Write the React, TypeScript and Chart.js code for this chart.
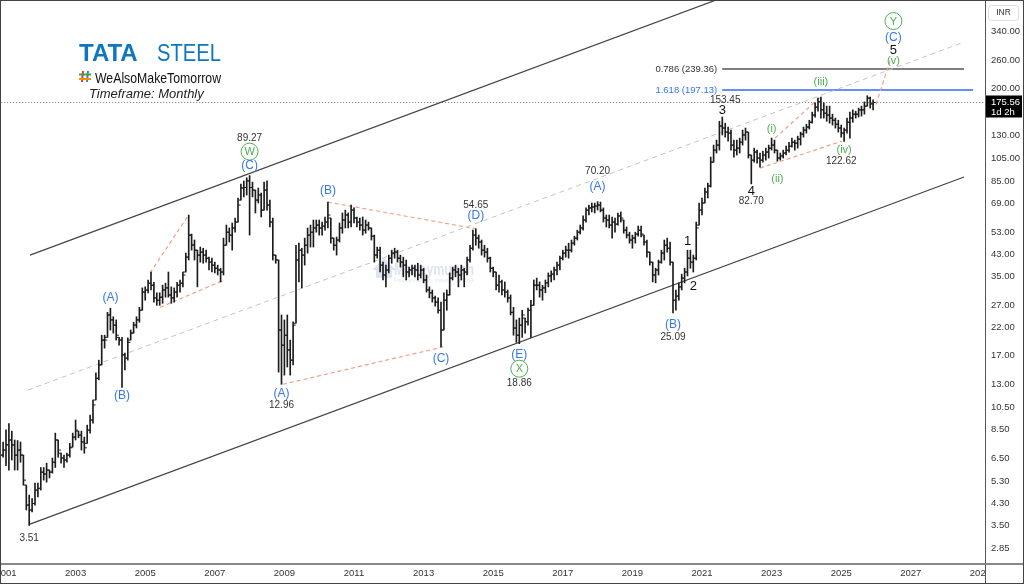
import React, { useEffect, useRef } from "react";
import { Chart, registerables } from "chart.js";

Chart.register(...registerables);

// ---------- DATA (monthly bars, first bar = Nov 2000) ----------
const FIRST_MONTH = -2; // months relative to Jan 2001

const highs = [
  // 2000 (Nov-Dec)
  7.05, 7.6,
  // 2001
  8.5, 9.0, 8.4, 7.74, 7.7, 7.6, 6.73, 5.1, 4.65, 4.5, 5.2, 5.2,
  // 2002
  6.0, 6.0, 6.25, 5.86, 6.55, 8.25, 7.74, 6.85, 6.73, 6.85, 7.5, 8.25,
  // 2003
  9.31, 8.4, 8.4, 7.95, 8.88, 9.75, 11.2, 14.4, 16.2, 20.4, 20.4, 25.2,
  // 2004
  26.2, 24.2, 23.5, 20.0, 20.0, 17.3, 19.9, 21.4, 23.0, 24.2, 26.4, 31.6,
  // 2005
  31.9, 34.0, 36.6, 33.3, 30.2, 30.2, 32.4, 33.0, 36.6, 31.9, 31.6, 33.3,
  // 2006
  34.0, 36.6, 43.6, 62.0, 52.0, 49.2, 44.8, 46.1, 45.6, 44.8, 42.0, 41.6,
  // 2007
  40.1, 39.0, 37.9, 50.1, 56.5, 55.0, 57.6, 60.3, 72.6, 82.6, 84.9, 87.5,
  // 2008
  89.27, 84.1, 78.1, 79.6, 76.0, 84.1, 85.0, 71.2, 60.3, 42.8, 40.9, 24.6,
  // 2009
  23.5, 24.6, 19.5, 23.1, 46.9, 47.8, 45.6, 50.1, 55.0, 56.5, 59.2, 59.2,
  // 2010
  59.2, 58.1, 60.9, 69.9, 60.3, 50.1, 50.6, 57.6, 63.2, 64.9, 63.2, 68.0,
  // 2011
  66.2, 60.9, 60.3, 60.9, 59.2, 58.1, 55.0, 51.5, 46.1, 46.1, 40.1, 39.0,
  // 2012
  42.8, 44.8, 45.6, 44.8, 42.8, 42.0, 40.9, 38.3, 39.0, 39.0, 39.7, 39.0,
  // 2013
  37.9, 35.6, 31.9, 31.0, 29.3, 28.8, 27.7, 30.2, 31.0, 36.3, 38.3, 39.0,
  // 2014
  37.9, 39.0, 37.9, 42.0, 46.9, 53.9, 54.65, 51.5, 49.2, 46.9, 45.6, 42.0,
  // 2015
  38.3, 36.6, 35.6, 34.0, 33.4, 31.0, 29.6, 26.4, 23.5, 23.9, 25.7, 23.9,
  // 2016
  26.2, 28.2, 34.0, 34.6, 33.4, 32.4, 34.0, 36.3, 37.0, 38.3, 40.1, 42.4,
  // 2017
  44.8, 46.5, 47.8, 49.2, 51.0, 53.9, 56.5, 61.5, 66.2, 68.0, 69.3, 69.3,
  // 2018
  70.2, 69.9, 66.2, 62.0, 62.0, 60.9, 60.3, 63.2, 63.8, 59.2, 55.5, 52.9,
  // 2019
  51.5, 52.9, 56.0, 56.0, 51.5, 49.2, 44.0, 40.1, 37.9, 40.9, 44.8, 49.2,
  // 2020
  50.1, 48.3, 40.1, 31.0, 33.1, 35.9, 37.9, 44.8, 44.8, 42.8, 58.1, 69.3,
  // 2021
  72.6, 79.6, 83.3, 106, 118.4, 124, 147.6, 153.45, 145, 139.9, 136, 124,
  // 2022
  124, 126.3, 136, 138.6, 133.5, 108, 115.1, 113, 110, 112, 115.1, 118.4,
  // 2023
  126.3, 124, 113, 110, 113, 117.2, 121.6, 126.3, 124, 128.6, 133.5, 139.9,
  // 2024
  143.6, 149, 160.6, 174.9, 182.9, 184.6, 174.9, 169.8, 169.8, 157.6, 152, 149,
  // 2025
  142.5, 138.6, 152, 160.6, 164, 162, 166.7, 169.8, 176.6, 186.9, 184.6, 180,
];

const lows = [
  6.43, 6.6,
  6.1, 5.86, 6.43, 5.86, 5.86, 6.3, 5.1, 4.05, 3.51, 3.98, 4.24, 4.57,
  4.87, 5.34, 5.24, 5.45, 5.7, 6.0, 6.6, 6.25, 6.0, 6.3, 6.6, 7.25,
  7.74, 7.9, 7.05, 6.85, 7.5, 8.25, 9.05, 11.2, 13.5, 15.5, 18.1, 20.0,
  21.4, 20.8, 19.5, 18.6, 12.6, 14.8, 16.2, 19.5, 20.8, 21.8, 23.0, 25.7,
  28.2, 30.2, 31.0, 27.7, 26.9, 26.9, 27.4, 29.0, 29.0, 27.4, 27.7, 29.0,
  30.4, 31.9, 36.6, 40.9, 44.8, 40.9, 31.9, 40.1, 39.7, 40.1, 37.3, 36.6,
  36.3, 35.6, 33.4, 35.6, 46.9, 48.3, 44.8, 52.9, 58.1, 71.2, 73.3, 74.6,
  51.5, 73.3, 63.2, 69.3, 60.9, 64.9, 64.9, 55.5, 40.9, 39.7, 14.5, 12.96,
  14.1, 15.2, 14.1, 15.5, 22.8, 33.4, 31.6, 39.0, 43.6, 46.1, 46.1, 52.9,
  51.5, 51.5, 53.9, 55.0, 47.8, 44.8, 42.8, 48.3, 52.4, 55.0, 55.0, 55.5,
  57.6, 55.5, 53.9, 51.5, 52.4, 53.9, 49.2, 40.1, 41.6, 36.6, 34.0, 31.9,
  36.3, 39.7, 41.6, 40.1, 38.3, 35.0, 34.0, 35.0, 35.6, 35.0, 34.0, 34.6,
  33.1, 30.4, 28.8, 27.7, 26.7, 25.0, 18.3, 21.4, 25.7, 29.6, 34.0, 35.0,
  31.9, 34.0, 31.9, 35.6, 40.1, 44.8, 46.9, 45.6, 42.8, 42.0, 40.1, 36.6,
  35.0, 31.0, 30.4, 29.6, 29.0, 27.7, 24.6, 20.4, 19.1, 18.86, 20.0, 20.8,
  22.4, 20.0, 26.9, 31.0, 29.0, 28.2, 30.2, 31.9, 33.4, 34.0, 35.6, 37.3,
  40.9, 42.0, 41.6, 44.0, 46.9, 49.2, 52.0, 53.9, 58.1, 62.0, 63.8, 63.2,
  64.9, 63.8, 58.1, 55.5, 55.0, 50.1, 52.9, 56.5, 58.1, 52.4, 50.1, 47.8,
  45.6, 47.8, 51.0, 50.6, 46.9, 42.0, 39.0, 33.4, 33.1, 35.6, 39.7, 40.9,
  44.0, 39.0, 25.09, 25.7, 28.2, 31.0, 33.1, 35.3, 37.9, 36.6, 40.9, 56.5,
  62.0, 69.3, 72.6, 80.3, 101.1, 110, 113, 130, 127.4, 122.8, 113, 106,
  108, 110, 118.4, 124, 105, 82.7, 101.1, 100.2, 96.6, 101.1, 103, 105,
  113, 110, 102, 103, 105, 108, 111, 116.2, 113, 115.1, 118.4, 127.4,
  132.3, 137.3, 145, 153.4, 162, 152, 152, 147.6, 145, 142.5, 138.6, 133.5,
  127.4, 122.62, 132.3, 126.3, 146.3, 152, 153.4, 154.8, 157.6, 169.8, 166.7, 164,
];

const closes = [
  6.73, 7.05,
  7.4, 7.74, 7.39, 6.73, 7.05, 6.73, 5.34, 4.24, 4.05, 4.3, 4.87, 4.95,
  5.75, 5.65, 5.86, 5.75, 6.3, 7.74, 7.05, 6.55, 6.43, 6.73, 7.2, 7.95,
  8.48, 8.1, 7.6, 7.2, 8.48, 9.31, 10.7, 13.7, 15.5, 19.5, 19.5, 24.6,
  23.5, 22.4, 20.4, 19.5, 17.0, 16.5, 19.1, 20.8, 22.4, 23.5, 25.7, 30.4,
  31.0, 33.0, 32.4, 28.8, 28.2, 29.0, 31.0, 31.6, 29.6, 28.8, 30.4, 32.4,
  33.0, 35.6, 42.0, 51.5, 47.0, 44.8, 42.8, 44.0, 42.8, 41.6, 40.1, 39.0,
  37.9, 37.3, 36.6, 46.9, 52.9, 51.5, 55.0, 58.1, 68.0, 79.6, 80.0, 85.0,
  80.0, 78.1, 71.2, 74.6, 64.9, 78.1, 68.0, 58.1, 42.8, 40.9, 21.4, 18.6,
  20.4, 17.8, 16.2, 22.4, 40.9, 44.8, 42.8, 46.9, 51.5, 52.9, 55.0, 56.5,
  55.0, 56.0, 58.1, 62.0, 50.1, 46.9, 49.2, 55.0, 59.2, 62.0, 58.1, 64.9,
  60.3, 58.1, 56.5, 53.9, 56.5, 55.0, 51.0, 42.8, 44.8, 39.0, 35.6, 37.3,
  41.6, 43.6, 44.0, 41.6, 40.1, 39.0, 36.6, 37.3, 37.9, 37.3, 35.6, 37.3,
  34.0, 31.0, 30.2, 28.8, 27.7, 25.7, 21.4, 28.2, 29.6, 34.6, 37.3, 36.6,
  35.6, 37.3, 36.6, 40.9, 45.6, 51.5, 50.1, 48.3, 44.8, 44.0, 41.6, 37.9,
  36.6, 32.4, 33.4, 31.0, 30.4, 28.8, 25.2, 21.8, 20.4, 22.4, 24.6, 23.1,
  25.7, 26.9, 32.4, 32.4, 31.0, 31.6, 33.1, 35.3, 35.9, 37.3, 39.0, 41.6,
  43.6, 44.8, 44.8, 47.8, 50.1, 52.9, 55.0, 59.2, 64.9, 66.2, 66.8, 67.4,
  68.0, 64.9, 60.3, 59.2, 56.5, 58.1, 57.0, 61.5, 60.3, 53.9, 51.5, 49.2,
  50.1, 52.0, 53.9, 52.0, 48.3, 44.0, 40.1, 35.6, 37.3, 40.1, 43.6, 46.9,
  45.6, 40.1, 28.2, 29.3, 31.9, 34.6, 36.6, 41.6, 40.1, 41.6, 55.0, 64.9,
  69.3, 76.7, 81.1, 101.1, 113, 118.4, 141.2, 138.6, 133.5, 132.3, 118.4, 113,
  115.1, 121.6, 130, 133.5, 108, 103, 111, 105, 103, 108, 111, 115.1,
  118.4, 113, 105, 107, 110, 113, 117.2, 121.6, 120.5, 125.1, 131, 136,
  139.9, 146.3, 156.3, 168.3, 176.6, 164, 159, 156.3, 152, 149, 143.6, 138.6,
  132.3, 136, 146.3, 152, 157.6, 157.6, 164, 164, 169.8, 182.9, 173.3, 175.56,
];

const yTicks = [340, 260, 200, 130, 105, 85, 69, 53, 43, 35, 27, 22, 17, 13, 10.5, 8.5, 6.5, 5.3, 4.3, 3.5, 2.85];
const xTickYears = [2001, 2003, 2005, 2007, 2009, 2011, 2013, 2015, 2017, 2019, 2021, 2023, 2025, 2027, 2029];
const lastPrice = 175.56;
const fib786 = 239.36;
const fib1618 = 197.13;

// trend lines [year, price]
const channelLower = [[2001.69, 3.555], [2028.53, 88.1]];
const channelUpper = [[2001.69, 42.8], [2024.0, 618]];
const channelMid = [[2001.63, 12.28], [2028.53, 307]];
const wedge06Upper = [[2005.14, 36.3], [2006.23, 61.5]];
const wedge06Lower = [[2005.43, 26.4], [2007.21, 33.7]];
const triUpper = [[2010.25, 69.9], [2014.48, 54.65]];
const triLower = [[2008.96, 12.96], [2013.56, 18.3]];
const wedge24Upper = [[2023.1, 126.3], [2024.39, 184]];
const wedge24Lower = [[2022.67, 95.7], [2025.02, 122.8]];
const projection = [[2026.0, 172.6], [2026.43, 265]];
const fibStart = 2021.58;
const fibGrayEnd = 2028.53;
const fibBlueEnd = 2028.79;

const waveLabels = [
  { m: 8, p: 3.51, dy: 12, text: "3.51", kind: "num" },
  { m: 36, p: 26.2, dy: -11, text: "(A)", kind: "blue" },
  { m: 40, p: 12.6, dy: 8, text: "(B)", kind: "blue" },
  { m: 84, p: 89.27, dy: -38, text: "89.27", kind: "num" },
  { m: 84, p: 89.27, dy: -24, text: "W", kind: "circle" },
  { m: 84, p: 89.27, dy: -10, text: "(C)", kind: "blue" },
  { m: 111, p: 69.9, dy: -12, text: "(B)", kind: "blue" },
  { m: 95, p: 12.96, dy: 9, text: "(A)", kind: "blue" },
  { m: 95, p: 12.96, dy: 20, text: "12.96", kind: "num" },
  { m: 150, p: 18.3, dy: 11, text: "(C)", kind: "blue" },
  { m: 162, p: 54.65, dy: -24, text: "54.65", kind: "num" },
  { m: 162, p: 54.65, dy: -13, text: "(D)", kind: "blue" },
  { m: 177, p: 18.86, dy: 10, text: "(E)", kind: "blue" },
  { m: 177, p: 18.86, dy: 25, text: "X", kind: "circle" },
  { m: 177, p: 18.86, dy: 39, text: "18.86", kind: "num" },
  { m: 204, p: 70.2, dy: -31, text: "70.20", kind: "num" },
  { m: 204, p: 70.2, dy: -15, text: "(A)", kind: "blue" },
  { m: 235, p: 44.8, dy: -9, text: "1", kind: "big" },
  { m: 237, p: 36.6, dy: 14, text: "2", kind: "big" },
  { m: 230, p: 25.09, dy: 11, text: "(B)", kind: "blue" },
  { m: 230, p: 25.09, dy: 24, text: "25.09", kind: "num" },
  { m: 248, p: 153.45, dy: -17, text: "153.45", kind: "num" },
  { m: 247, p: 153.45, dy: -7, text: "3", kind: "big" },
  { m: 257, p: 82.7, dy: 7, text: "4", kind: "big" },
  { m: 257, p: 82.7, dy: 17, text: "82.70", kind: "num" },
  { m: 264, p: 126.3, dy: -10, text: "(i)", kind: "green" },
  { m: 266, p: 102, dy: 17, text: "(ii)", kind: "green" },
  { m: 281, p: 184.6, dy: -16, text: "(iii)", kind: "green" },
  { m: 289, p: 122.62, dy: 8, text: "(iv)", kind: "green" },
  { m: 288, p: 122.62, dy: 19, text: "122.62", kind: "num" },
  { m: 306, p: 260, dy: -39, text: "Y", kind: "circle" },
  { m: 306, p: 260, dy: -23, text: "(C)", kind: "blue" },
  { m: 306, p: 260, dy: -10, text: "5", kind: "big" },
  { m: 306, p: 260, dy: 0, text: "(v)", kind: "green" },
];

// ---------- STYLE ----------
const F = "'Liberation Sans', 'DejaVu Sans', Arial, sans-serif";
const BAR = "#1c1c1c";
const BLUE = "#3576ee";
const GREEN = "#4caf50";
const SALMON = "#f2a085";
const TICK_OFFSET = 0.04;

const monthToYear = (m: number) => 2001 + m / 12;

const seg = (pts: number[][], color: string, width: number, dash: number[] = []) => ({
  type: "line",
  data: pts.map(([x, y]) => ({ x, y })),
  borderColor: color,
  borderWidth: width,
  borderDash: dash,
  pointRadius: 0,
  fill: false,
  tension: 0,
  order: 3,
});

const overlay = {
  id: "overlay",
  beforeDatasetsDraw(chart: any) {
    const { ctx } = chart;
    ctx.save();
    // watermark
    ctx.globalAlpha = 0.35;
    ctx.fillStyle = "#9fb3d6";
    ctx.beginPath();
    ctx.moveTo(372, 270);
    ctx.lineTo(384, 258);
    ctx.lineTo(396, 270);
    ctx.closePath();
    ctx.fill();
    ctx.fillRect(376, 270, 16, 8);
    ctx.font = `bold 17px ${F}`;
    ctx.textBaseline = "alphabetic";
    ctx.fillText("Moneymunch", 394, 275, 80);
    ctx.font = `5px ${F}`;
    ctx.fillText("Financial Planning · Investing · Analysis", 394, 282, 80);
    ctx.restore();
  },
  afterDatasetsDraw(chart: any) {
    const { ctx, scales } = chart;
    const xs = scales.x;
    const ys = scales.y;
    ctx.save();
    ctx.textAlign = "center";
    ctx.textBaseline = "middle";
    for (const l of waveLabels) {
      const px = xs.getPixelForValue(monthToYear(l.m));
      const py = ys.getPixelForValue(l.p) + l.dy;
      if (l.kind === "num") {
        ctx.font = `10px ${F}`;
        ctx.fillStyle = "#333";
      } else if (l.kind === "blue") {
        ctx.font = `12px ${F}`;
        ctx.fillStyle = BLUE;
      } else if (l.kind === "green") {
        ctx.font = `11px ${F}`;
        ctx.fillStyle = GREEN;
      } else if (l.kind === "big") {
        ctx.font = `13px ${F}`;
        ctx.fillStyle = "#111";
      } else if (l.kind === "circle") {
        ctx.beginPath();
        ctx.arc(px, py, 8.5, 0, Math.PI * 2);
        ctx.fillStyle = "#fff";
        ctx.fill();
        ctx.strokeStyle = GREEN;
        ctx.lineWidth = 1;
        ctx.stroke();
        ctx.font = `11px ${F}`;
        ctx.fillStyle = GREEN;
      }
      ctx.fillText(l.text, px, py + 0.5);
    }
    // fib labels
    const fx = xs.getPixelForValue(fibStart) - 5;
    ctx.textAlign = "right";
    ctx.font = `9.5px ${F}`;
    ctx.fillStyle = "#333";
    ctx.fillText(`0.786 (${fib786.toFixed(2)})`, fx, ys.getPixelForValue(fib786));
    ctx.fillStyle = BLUE;
    ctx.fillText(`1.618 (${fib1618.toFixed(2)})`, fx, ys.getPixelForValue(fib1618));
    ctx.restore();
  },
  afterDraw(chart: any) {
    const { ctx, scales, chartArea } = chart;
    const xs = scales.x;
    const ys = scales.y;
    const W = chart.width;
    const H = chart.height;
    ctx.save();
    // x-axis labels
    ctx.save();
    ctx.beginPath();
    ctx.rect(0, chartArea.bottom, chartArea.right, H - chartArea.bottom);
    ctx.clip();
    ctx.font = `9.5px ${F}`;
    ctx.fillStyle = "#333";
    ctx.textAlign = "center";
    ctx.textBaseline = "middle";
    for (const yr of xTickYears) {
      ctx.fillText(String(yr), xs.getPixelForValue(yr), chartArea.bottom + 10);
    }
    ctx.restore();
    // axis lines
    ctx.strokeStyle = "#555";
    ctx.lineWidth = 1;
    ctx.beginPath();
    ctx.moveTo(chartArea.right + 0.5, 0);
    ctx.lineTo(chartArea.right + 0.5, H);
    ctx.stroke();
    ctx.fillStyle = "#888";
    ctx.fillRect(0, chartArea.bottom, W, 2);
    // outer frame
    ctx.strokeStyle = "#444";
    ctx.strokeRect(0.5, 0.5, W - 1, H - 1);
    // INR box
    ctx.fillStyle = "#fff";
    ctx.strokeStyle = "#ddd";
    ctx.beginPath();
    (ctx as any).roundRect(988.5, 5.5, 30, 15, 3);
    ctx.fill();
    ctx.stroke();
    ctx.fillStyle = "#333";
    ctx.font = `8.5px ${F}`;
    ctx.textAlign = "center";
    ctx.textBaseline = "middle";
    ctx.fillText("INR", 1003.5, 13);
    // last price tag
    const lp = ys.getPixelForValue(lastPrice);
    ctx.fillStyle = "#000";
    ctx.fillRect(chartArea.right + 1, lp - 7, W - chartArea.right - 3, 22);
    ctx.fillStyle = "#fff";
    ctx.textAlign = "left";
    ctx.font = `9.5px ${F}`;
    ctx.fillText(lastPrice.toFixed(2), 991, lp);
    ctx.fillText("1d 2h", 991, lp + 10);
    // logo
    ctx.textAlign = "left";
    ctx.textBaseline = "alphabetic";
    ctx.fillStyle = "#0f76c0";
    ctx.font = `900 24px ${F}`;
    ctx.fillText("TATA", 79, 61, 69);
    ctx.font = `24px ${F}`;
    ctx.fillText("STEEL", 157, 61, 64);
    // hash icon
    ctx.lineWidth = 2;
    ctx.strokeStyle = "#e53935";
    ctx.beginPath(); ctx.moveTo(83, 71); ctx.lineTo(82, 82); ctx.stroke();
    ctx.strokeStyle = "#1e88e5";
    ctx.beginPath(); ctx.moveTo(88, 71); ctx.lineTo(87, 82); ctx.stroke();
    ctx.strokeStyle = "#43a047";
    ctx.beginPath(); ctx.moveTo(79, 74.5); ctx.lineTo(91, 74.5); ctx.stroke();
    ctx.strokeStyle = "#fb8c00";
    ctx.beginPath(); ctx.moveTo(79, 79); ctx.lineTo(91, 79); ctx.stroke();
    ctx.fillStyle = "#111";
    ctx.font = `15px ${F}`;
    ctx.fillText("WeAlsoMakeTomorrow", 95, 83, 126);
    ctx.font = `italic 13px ${F}`;
    ctx.fillStyle = "#222";
    ctx.fillText("Timeframe: Monthly", 89, 98, 121);
    ctx.restore();
  },
};

export default function App() {
  const ref = useRef<HTMLCanvasElement>(null);
  useEffect(() => {
    const canvas = ref.current;
    if (!canvas) return;
    const hl: any[] = [];
    const opens: any[] = [];
    const cls: any[] = [];
    for (let i = 0; i < closes.length; i++) {
      const t = monthToYear(FIRST_MONTH + i);
      const prev = i === 0 ? closes[0] : closes[i - 1];
      const o = Math.min(highs[i], Math.max(lows[i], prev));
      hl.push({ x: t, y: [lows[i], highs[i]] });
      opens.push({ x: t - TICK_OFFSET, y: o });
      cls.push({ x: t + TICK_OFFSET, y: closes[i] });
    }
    const datasets: any[] = [
      seg(channelUpper, "#444", 1.2),
      seg(channelLower, "#444", 1.2),
      seg(channelMid, "#c4c4c4", 1, [5, 4]),
      seg(wedge06Upper, SALMON, 1.2, [4, 3]),
      seg(wedge06Lower, SALMON, 1.2, [4, 3]),
      seg(triUpper, SALMON, 1.2, [4, 3]),
      seg(triLower, SALMON, 1.2, [4, 3]),
      seg(wedge24Upper, SALMON, 1.2, [4, 3]),
      seg(wedge24Lower, SALMON, 1.2, [4, 3]),
      seg(projection, SALMON, 1.2, [4, 3]),
      seg([[fibStart, fib786], [fibGrayEnd, fib786]], "#555", 1.5),
      seg([[fibStart, fib1618], [fibBlueEnd, fib1618]], "#2f6bff", 1.5),
      seg([[2000, lastPrice], [2030, lastPrice]], "#777", 1, [1, 2]),
      {
        type: "bar",
        data: hl,
        backgroundColor: BAR,
        borderWidth: 0,
        barThickness: 1,
        grouped: false,
        order: 1,
      },
      {
        type: "scatter",
        data: opens,
        pointStyle: "line",
        pointRadius: 1.2,
        borderColor: BAR,
        pointBorderWidth: 1,
        showLine: false,
        order: 1,
      },
      {
        type: "scatter",
        data: cls,
        pointStyle: "line",
        pointRadius: 1.2,
        borderColor: BAR,
        pointBorderWidth: 1,
        showLine: false,
        order: 1,
      },
    ];
    const chart = new Chart(canvas, {
      type: "bar",
      data: { datasets },
      options: {
        animation: false,
        responsive: false,
        events: [],
        layout: { padding: { left: 1, top: 1, right: 0, bottom: 0 }, autoPadding: false },
        plugins: { legend: { display: false }, tooltip: { enabled: false } },
        scales: {
          x: {
            type: "linear",
            min: 2000.8563,
            max: 2029.132,
            offset: false,
            grid: { display: false, drawTicks: false },
            border: { display: false },
            ticks: { display: false },
            afterFit: (s: any) => { s.height = 21; s.paddingLeft = 0; s.paddingRight = 0; },
          },
          y: {
            type: "logarithmic",
            position: "right",
            min: 2.481,
            max: 448.9,
            grid: { display: false, drawTicks: false },
            border: { display: false },
            afterBuildTicks: (s: any) => { s.ticks = yTicks.map((v) => ({ value: v })); },
            afterFit: (s: any) => { s.width = 39; s.paddingTop = 0; s.paddingBottom = 0; },
            ticks: {
              autoSkip: false,
              padding: 6,
              color: "#333",
              font: { size: 9.5, family: F },
              callback: (v: any) => Number(v).toFixed(2),
            },
          },
        },
      } as any,
      plugins: [overlay],
    } as any);
    return () => chart.destroy();
  }, []);
  return (
    <div style={{ position: "fixed", left: 0, top: 0, width: 1024, height: 584, background: "#fff" }}>
      <canvas ref={ref} width={1024} height={584} style={{ display: "block" }} />
    </div>
  );
}
